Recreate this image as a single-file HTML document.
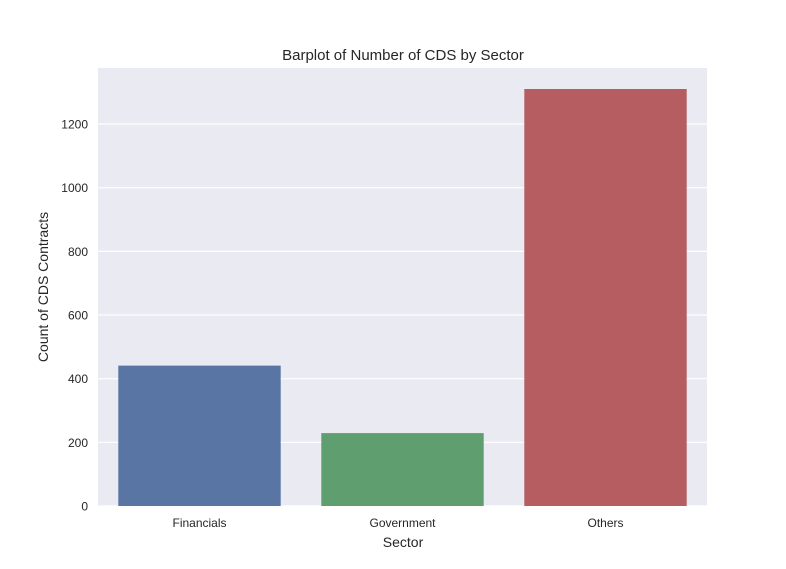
<!DOCTYPE html>
<html><head><meta charset="utf-8"><style>
html,body{margin:0;padding:0;background:#fff;}
svg{display:block;font-family:"Liberation Sans",Arial,sans-serif;}
</style></head><body>
<svg id="chart" width="786" height="569">
<text x="403" y="60" text-anchor="middle" font-size="15" fill="#262626">Barplot of Number of CDS by Sector</text>
<rect x="98" y="68" width="609" height="438" fill="#eaeaf2"/>
<g id="grid"></g><g id="bars"></g><g id="ticks"></g>
<text x="403" y="547" text-anchor="middle" font-size="14" fill="#262626">Sector</text>
<text transform="translate(48,287) rotate(-90)" text-anchor="middle" font-size="14" fill="#262626">Count of CDS Contracts</text>
</svg>
<script>
const categories = ["Financials", "Government", "Others"];
const counts = [441, 229, 1310];
const yTicks = [0, 200, 400, 600, 800, 1000, 1200];
const colors = ["#5975a4", "#5f9e6e", "#b55d60"];

const NS = "http://www.w3.org/2000/svg";
const pLeft = 98, pRight = 707, pTop = 68, pBottom = 506, yMax = 1376;
const yScale = v => pBottom - (v / yMax) * (pBottom - pTop);
const band = (pRight - pLeft) / categories.length;
const xScale = i => pLeft + band * i + band * 0.1;
function mk(tag, attrs, parent){const e=document.createElementNS(NS,tag);for(const k in attrs)e.setAttribute(k,attrs[k]);parent.appendChild(e);return e;}
const gridG = document.getElementById("grid"), barsG = document.getElementById("bars"), ticksG = document.getElementById("ticks");
yTicks.forEach(t => {
  const l = mk("line", {x1:pLeft, x2:pRight, y1:yScale(t), y2:yScale(t), stroke:"#fff", "stroke-width":1.2}, gridG);
  
  
  const tx = mk("text", {x:88, y:yScale(t)+4.5, "text-anchor":"end", "font-size":12, fill:"#262626"}, ticksG);
  tx.textContent = t;
  
  
});
categories.forEach((c, i) => {
  const r = mk("rect", {x:xScale(i), y:yScale(counts[i]), width:band*0.8, height:pBottom - yScale(counts[i]), fill:colors[i]}, barsG);
  
  
  const tx = mk("text", {x:pLeft + band*(i+0.5), y:527, "text-anchor":"middle", "font-size":12, fill:"#262626"}, ticksG);
  tx.textContent = c;
  
  
});
</script>
</body></html>
